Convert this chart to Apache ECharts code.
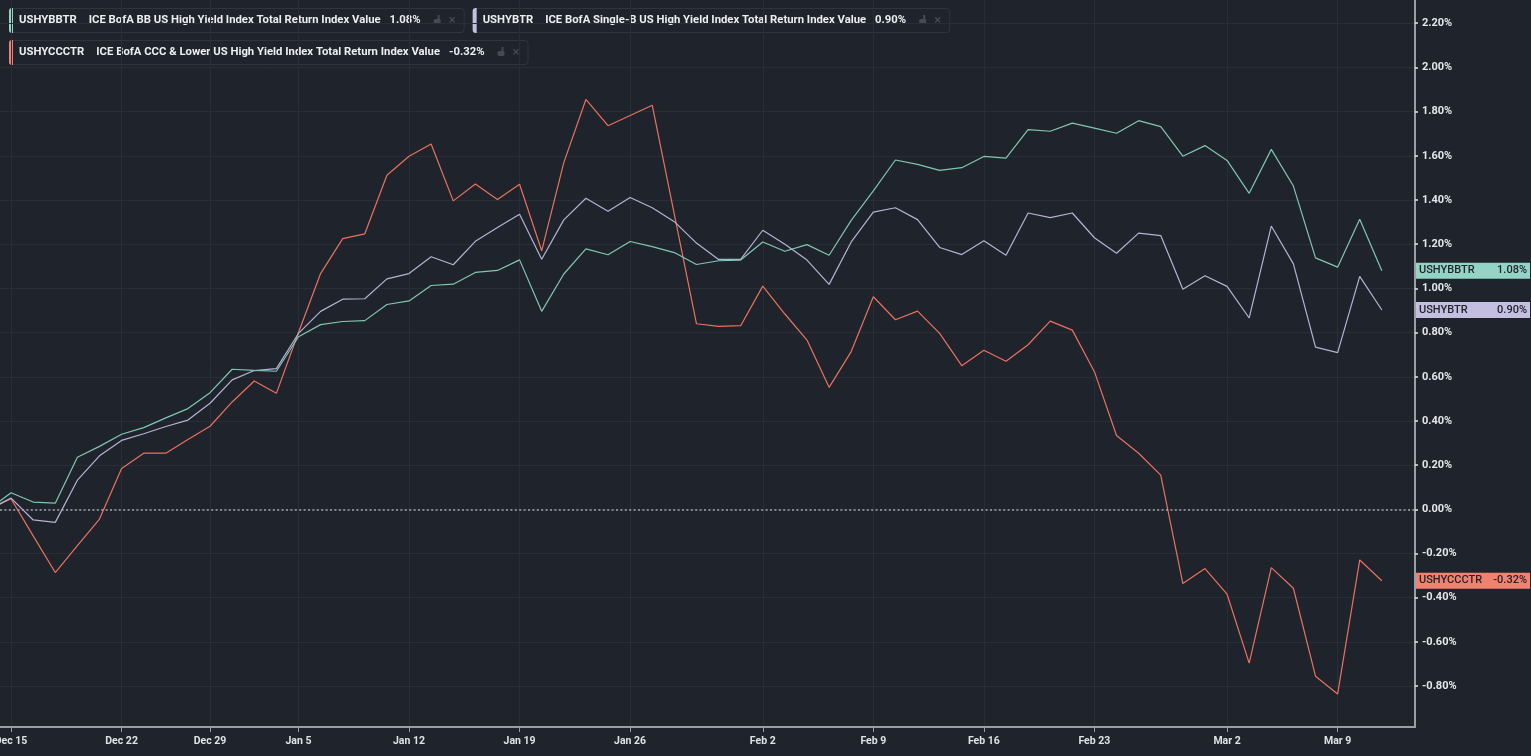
<!DOCTYPE html>
<html><head><meta charset="utf-8">
<script src="https://cdn.jsdelivr.net/npm/echarts@6/dist/echarts.min.js"></script>
<style>html,body{margin:0;padding:0;background:#1f232c;overflow:hidden}#c{width:1531px;height:756px;}</style>
</head><body><div id="c"></div>
<script>
// ---- data ----
const dates = ['Dec 12','Dec 15','Dec 16','Dec 17','Dec 18','Dec 19','Dec 22','Dec 23','Dec 24','Dec 26','Dec 29','Dec 30','Dec 31','Jan 2','Jan 5','Jan 6','Jan 7','Jan 8','Jan 9','Jan 12','Jan 13','Jan 14','Jan 15','Jan 16','Jan 19','Jan 20','Jan 21','Jan 22','Jan 23','Jan 26','Jan 27','Jan 28','Jan 29','Jan 30','Jan 31','Feb 2','Feb 3','Feb 4','Feb 5','Feb 6','Feb 9','Feb 10','Feb 11','Feb 12','Feb 13','Feb 16','Feb 17','Feb 18','Feb 19','Feb 20','Feb 23','Feb 24','Feb 25','Feb 26','Feb 27','Feb 28','Mar 2','Mar 3','Mar 4','Mar 5','Mar 6','Mar 9','Mar 10','Mar 11'];
const xTickLabels = ['Dec 15','Dec 22','Dec 29','Jan 5','Jan 12','Jan 19','Jan 26','Feb 2','Feb 9','Feb 16','Feb 23','Mar 2','Mar 9'];
const yTicks = [-0.8,-0.6,-0.4,-0.2,0,0.2,0.4,0.6,0.8,1.0,1.2,1.4,1.6,1.8,2.0,2.2];

const tickers = ['USHYBBTR','USHYBTR','USHYCCCTR'];
const names = ['ICE BofA BB US High Yield Index Total Return Index Value','ICE BofA Single-B US High Yield Index Total Return Index Value','ICE BofA CCC & Lower US High Yield Index Total Return Index Value'];

const bbValues = [0,0.075,0.033,0.028,0.236,0.285,0.340,0.370,0.414,0.456,0.528,0.634,0.629,0.625,0.781,0.836,0.850,0.854,0.927,0.943,1.013,1.019,1.072,1.081,1.129,0.896,1.065,1.179,1.152,1.212,1.189,1.162,1.108,1.125,1.128,1.210,1.168,1.198,1.150,1.308,1.441,1.581,1.561,1.534,1.546,1.597,1.589,1.718,1.711,1.748,1.725,1.702,1.759,1.732,1.598,1.646,1.579,1.430,1.629,1.463,1.138,1.096,1.313,1.080];
const bValues = [0,0.051,-0.048,-0.059,0.132,0.242,0.312,0.342,0.375,0.404,0.480,0.586,0.628,0.637,0.796,0.896,0.951,0.953,1.043,1.067,1.143,1.107,1.213,1.275,1.335,1.132,1.310,1.408,1.349,1.411,1.365,1.302,1.205,1.131,1.131,1.263,1.200,1.128,1.018,1.210,1.345,1.365,1.311,1.185,1.153,1.215,1.150,1.341,1.320,1.341,1.229,1.159,1.250,1.239,0.996,1.057,1.009,0.866,1.282,1.111,0.734,0.709,1.054,0.902];
const cccValues = [0,0.048,-0.120,-0.286,-0.164,-0.044,0.185,0.254,0.254,0.316,0.376,0.486,0.581,0.525,0.800,1.067,1.225,1.247,1.512,1.598,1.653,1.396,1.472,1.402,1.471,1.170,1.569,1.855,1.736,1.782,1.829,1.335,0.840,0.828,0.831,1.010,0.884,0.766,0.552,0.714,0.962,0.858,0.897,0.796,0.650,0.720,0.670,0.745,0.852,0.811,0.623,0.334,0.254,0.155,-0.336,-0.268,-0.384,-0.696,-0.264,-0.357,-0.755,-0.836,-0.229,-0.323];

// ---- styles ----
const lineColors = ['#80c6b4','#b7b2d3','#e8725f'];
const tagColors = ['#93d4c5','#c4bfe0','#f2826f'];
const seriesValues = [bbValues, bValues, cccValues];
const FONT = 'Roboto, "Noto Sans", sans-serif';
const axisGrey = '#9a9da4';
const gridCol = '#292d36';

const xMin = 0.5, xMax = dates.length + 0.5;
const xTickIdx = xTickLabels.map(l => dates.indexOf(l));
const fmtPct = v => v.toFixed(2) + '%';

const chart = echarts.init(document.getElementById('c'), null, {renderer: 'canvas'});

// legend boxes (layout)
const ctx = document.createElement('canvas').getContext('2d');
function tw(t, f) { ctx.font = f; return ctx.measureText(t).width; }
const LF = 'bold 11.3px Roboto';
function legendBox(i, x, y) {
  const last = seriesValues[i][seriesValues[i].length - 1];
  const vt = fmtPct(last);
  const w1 = tw(tickers[i], LF), w2 = tw(names[i], LF), w3 = tw(vt, LF);
  const xName = 10 + w1 + 12;
  const xVal = xName + w2 + 9;
  const xIcon = xVal + w3 + 13;
  const width = xIcon + 30;
  const txt = (t, tx) => ({type: 'text', x: tx, y: 12.5, style: {text: t, fill: '#eceef1', font: LF, verticalAlign: 'middle'}});
  return {
    type: 'group', x: x, y: y,
    children: [
      {type: 'rect', shape: {x: 0.5, y: 0.5, width: width, height: 24, r: 3}, style: {fill: '#1f232c', stroke: '#30343d', lineWidth: 1}},
      {type: 'rect', shape: {x: 0, y: 0, width: 4, height: 25, r: [3, 0, 0, 3]}, style: {fill: tagColors[i]}},
      txt(tickers[i], 10), txt(names[i], xName), txt(vt, xVal),
      {type: 'rect', shape: {x: xIcon, y: 11, width: 7, height: 5, r: 1.5}, style: {fill: '#454a54'}},
      {type: 'rect', shape: {x: xIcon + 4, y: 7, width: 2, height: 5}, style: {fill: '#454a54'}},
      {type: 'text', x: xIcon + 15, y: 12.5, style: {text: '×', fill: '#4a4f59', font: '13px Roboto', verticalAlign: 'middle'}}
    ],
    _w: width
  };
}
const g1 = legendBox(0, 9, 8);
const g2 = legendBox(1, 9 + g1._w + 9, 8);
const g3 = legendBox(2, 9, 40);
[g1, g2, g3].forEach(g => delete g._w);

const series = seriesValues.map((vals, i) => {
  const last = vals[vals.length - 1];
  const s = {
    name: tickers[i],
    type: 'line',
    data: vals.map((v, k) => [k, v]),
    showSymbol: false,
    clip: false,
    animation: false,
    lineStyle: {width: 1.2, color: lineColors[i]},
    itemStyle: {color: lineColors[i]},
    z: 3 - i,
    markPoint: {
      silent: true, animation: false,
      symbol: 'rect', symbolSize: [114, 16], symbolOffset: [58, 0],
      itemStyle: {color: tagColors[i]},
      label: {
        show: true, position: 'inside',
        formatter: () => '{t|' + tickers[i] + '}{v|' + fmtPct(last) + '}',
        rich: {
          t: {width: 70, align: 'left', fontSize: 11, fontWeight: 500, color: '#20242c', fontFamily: FONT},
          v: {width: 38, align: 'right', fontSize: 11, fontWeight: 500, color: '#20242c', fontFamily: FONT}
        }
      },
      data: [{coord: [xMax, last]}]
    }
  };
  if (i === 0) {
    s.markLine = {
      silent: true, animation: false, symbol: ['none', 'none'],
      label: {show: false},
      lineStyle: {type: [2, 2.4], color: '#a3a7ae', width: 1.5},
      emphasis: {disabled: true},
      data: [{yAxis: 0, lineStyle: {type: [2, 2.4], color: '#a3a7ae', width: 1.5}}]
    };
  }
  return s;
});

chart.setOption({
  backgroundColor: '#1f232c',
  animation: false,
  grid: {left: 0, right: 116, top: 0, bottom: 29, containLabel: false, outerBoundsMode: 'none'},
  xAxis: {
    type: 'value', min: xMin, max: xMax,
    axisLine: {show: true, onZero: false, lineStyle: {color: axisGrey, width: 2}},
    axisTick: {show: true, customValues: xTickIdx, length: 5, lineStyle: {color: axisGrey}},
    axisLabel: {show: true, customValues: xTickIdx, formatter: v => dates[Math.round(v)], color: '#dfe2e6', fontSize: 10.5, fontWeight: 'bold', fontFamily: FONT, margin: 9},
    splitLine: {show: true, lineStyle: {color: gridCol, width: 1}}
  },
  yAxis: {
    type: 'value', position: 'right', min: -0.985, max: 2.305,
    axisLine: {show: true, onZero: false, lineStyle: {color: axisGrey, width: 2}},
    axisTick: {show: true, customValues: yTicks, length: 3, lineStyle: {color: '#e6e6e6', width: 1.5}},
    axisLabel: {show: true, customValues: yTicks, formatter: fmtPct, color: '#e4e6ea', fontSize: 11, fontWeight: 'bold', fontFamily: FONT, margin: 7},
    splitLine: {show: true, lineStyle: {color: gridCol, width: 1}}
  },
  series: series,
  graphic: [g1, g2, g3]
});
</script>
</body></html>
